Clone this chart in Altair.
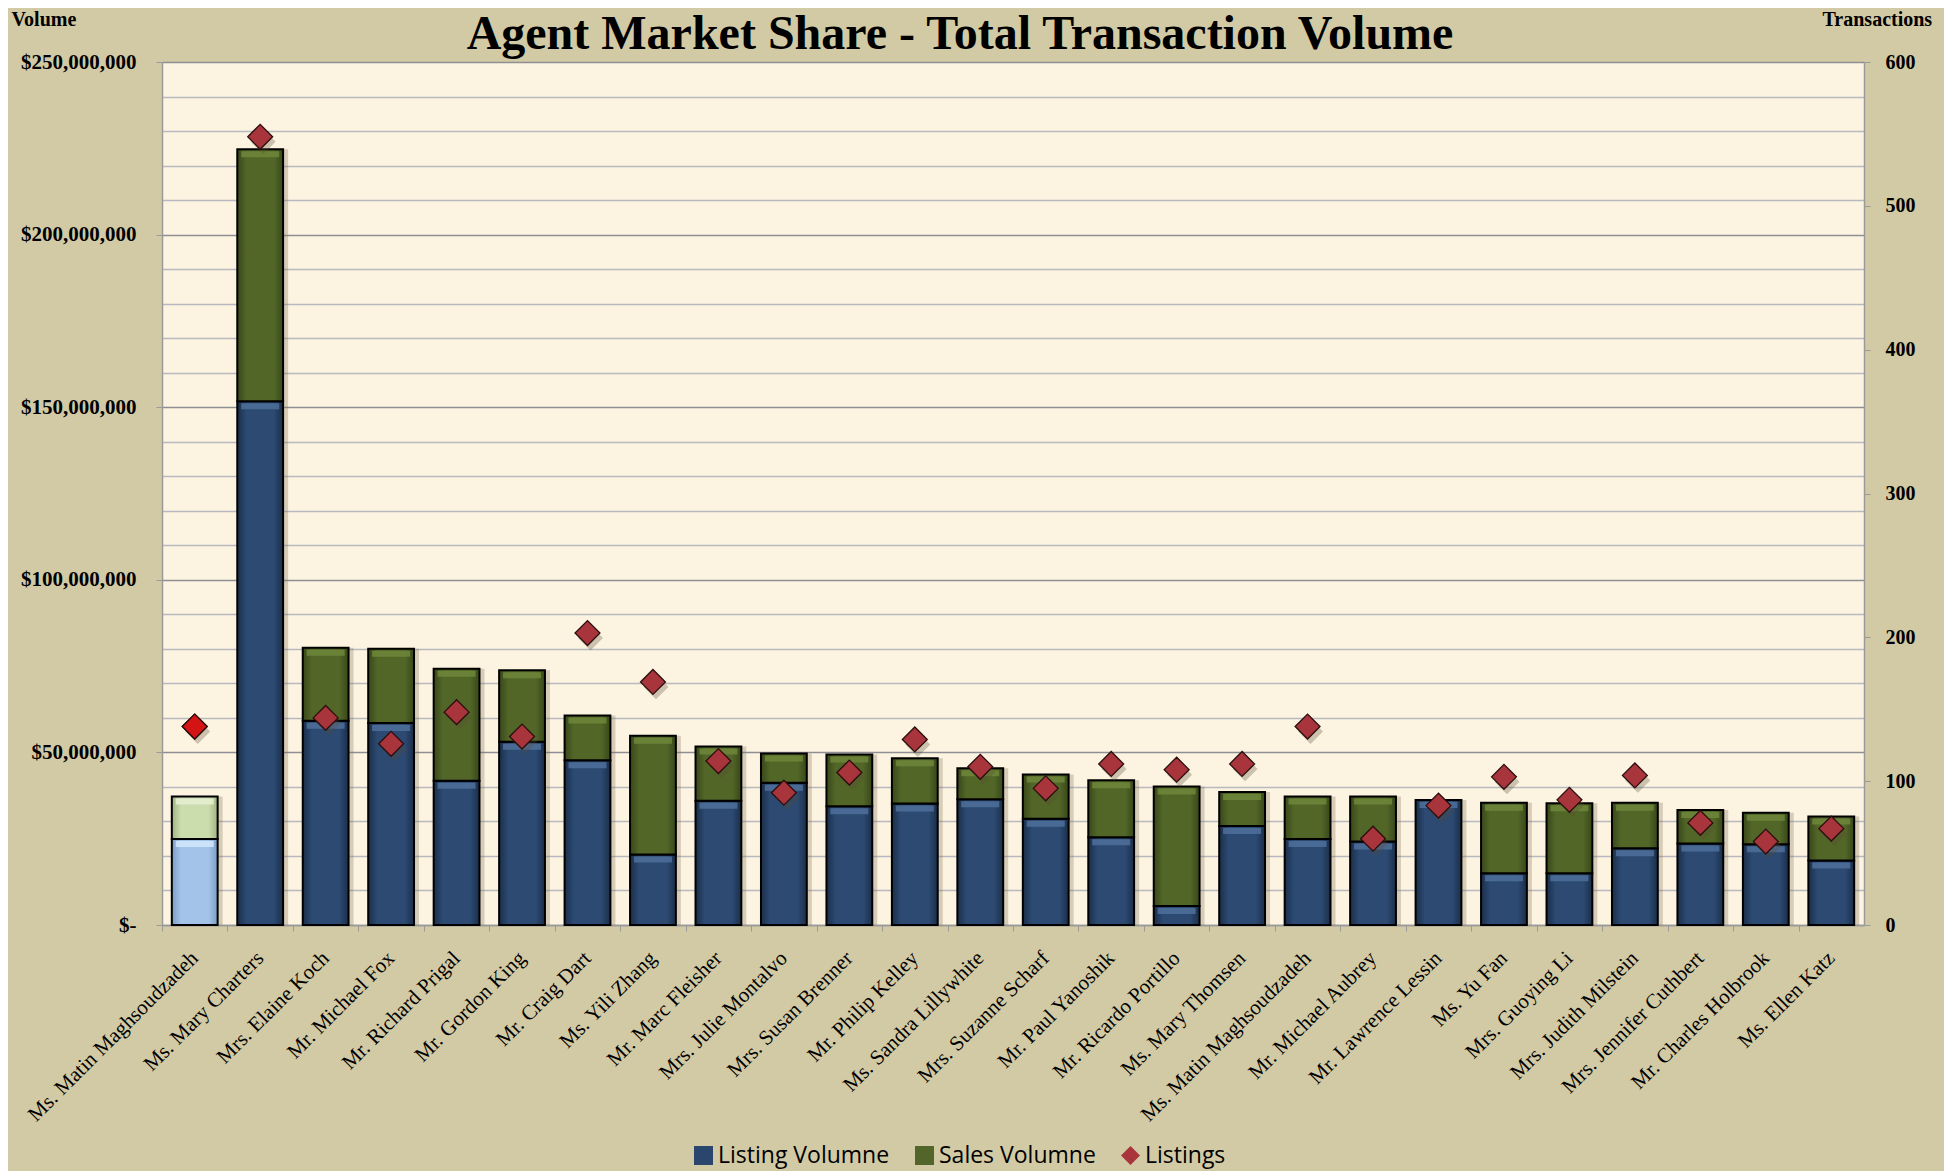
import json
import altair as alt
import pandas as pd

# ---------------- data ----------------
names = [
    "Ms. Matin Maghsoudzadeh", "Ms. Mary Charters", "Mrs. Elaine Koch", "Mr. Michael Fox",
    "Mr. Richard Prigal", "Mr. Gordon King", "Mr. Craig Dart", "Ms. Yili Zhang",
    "Mr. Marc Fleisher", "Mrs. Julie Montalvo", "Mrs. Susan Brenner", "Mr. Philip Kelley",
    "Ms. Sandra Lillywhite", "Mrs. Suzanne Scharf", "Mr. Paul Yanoshik", "Mr. Ricardo Portillo",
    "Ms. Mary Thomsen", "Ms. Matin Maghsoudzadeh", "Mr. Michael Aubrey", "Mr. Lawrence Lessin",
    "Ms. Yu Fan", "Mrs. Guoying Li", "Mrs. Judith Milstein", "Mrs. Jennifer Cuthbert",
    "Mr. Charles Holbrook", "Ms. Ellen Katz",
]
# $ millions
listing_volume = [24.9, 151.7, 59.2, 58.5, 41.8, 53.1, 47.7, 20.4, 36.0, 41.2, 34.4, 35.2, 36.4,
                  30.8, 25.4, 5.5, 28.7, 24.9, 24.2, 36.2, 15.0, 15.0, 22.2, 23.6, 23.4, 18.7]
sales_volume = [12.3, 73.0, 21.1, 21.5, 32.4, 20.7, 13.0, 34.4, 15.7, 8.5, 15.0, 13.1, 9.0,
                12.8, 16.5, 34.6, 9.8, 12.3, 13.0, 0.0, 20.4, 20.3, 13.2, 9.7, 9.1, 12.7]
listings = [138, 548, 144, 126, 148, 131, 203, 169, 114, 92, 106, 129, 110,
            95, 112, 108, 112, 138, 60, 83, 103, 87, 104, 71, 58, 67]
highlighted = [0]  # the selected (light coloured) bar

left_ticks = list(range(0, 250_000_001, 10_000_000))
right_ticks = [0, 100, 200, 300, 400, 500, 600]

TITLE = "Agent Market Share - Total Transaction Volume"
SERIES = ["Listing Volumne", "Sales Volumne", "Listings"]

# ---------------- tables ----------------
rows = []
for i, n in enumerate(names):
    lv = listing_volume[i] * 1e6
    sv = sales_volume[i] * 1e6
    hl = 1 if i in highlighted else 0
    rows.append(dict(idx=i, name=n, series=SERIES[0], v0=0.0, v1=lv, hl=hl))
    if sv > 0:
        rows.append(dict(idx=i, name=n, series=SERIES[1], v0=lv, v1=lv + sv, hl=hl))
bars_df = pd.DataFrame(rows)
pts_df = pd.DataFrame(dict(idx=list(range(len(names))), name=names,
                           series=SERIES[2], listings=listings,
                           hl=[1 if i in highlighted else 0 for i in range(len(names))]))

# ---------------- styling ----------------
SERIF = "Liberation Serif"
SANS = "Open Sans"
W, H = 1702, 863
STEP = W / len(names)


def hgrad(edge, mid):
    return {"gradient": "linear", "x1": 0, "y1": 0, "x2": 1, "y2": 0,
            "stops": [{"offset": 0, "color": edge}, {"offset": 0.2, "color": mid},
                      {"offset": 0.8, "color": mid}, {"offset": 1, "color": edge}]}


G_BLUE = hgrad("#1b2e49", "#2c4a72")
G_GREEN = hgrad("#384719", "#526628")
G_LBLUE = hgrad("#7b9dc4", "#a3c4e8")
G_LGREEN = hgrad("#a1b381", "#cbdcad")

is_listing = "datum.series === 'Listing Volumne'"
bar_fill = alt.FillValue(
    G_GREEN,
    condition=[
        {"test": f"datum.hl === 1 && {is_listing}", "value": G_LBLUE},
        {"test": "datum.hl === 1", "value": G_LGREEN},
        {"test": is_listing, "value": G_BLUE},
    ],
)
hi_fill = alt.ColorValue(
    "#6d873a",
    condition=[
        {"test": f"datum.hl === 1 && {is_listing}", "value": "#d3e8fc"},
        {"test": "datum.hl === 1", "value": "#e6f0d2"},
        {"test": is_listing, "value": "#4f709b"},
    ],
)

x_enc = alt.X(
    "idx:O", title=None,
    scale=alt.Scale(paddingInner=0.3, paddingOuter=0.15),
    axis=alt.Axis(
        labelExpr=json.dumps(names) + "[datum.value]",
        labelAngle=-45, labelFont=SERIF, labelFontSize=21, labelColor="black",
        labelLimit=400, labelOverlap=False, labelPadding=16,
        tickOffset=-STEP / 2, labelOffset=STEP / 2 - 8,
        tickSize=6, tickColor="#9a9a9a", domainColor="#9a9a9a", domainWidth=1.5,
        grid=False,
    ),
)

left_axis = alt.Axis(
    values=left_ticks,
    labelExpr=("datum.value === 0 ? '$-\u00a0\u00a0' : (datum.value % 50000000 === 0 ? "
               "'$' + format(datum.value, ',') : '')"),
    labelFont=SERIF, labelFontSize=21, labelFontWeight="bold", labelColor="black",
    labelPadding=20, labelOverlap=False,
    tickSize=6, tickColor=alt.condition("datum.value % 50000000 === 0",
                                        alt.value("#9a9a9a"), alt.value("rgba(0,0,0,0)")),
    grid=True,
    gridColor=alt.condition("datum.value % 50000000 === 0",
                            alt.value("#8e8e94"), alt.value("#b8b8c0")),
    gridWidth=1.5,
    domainColor="#9a9a9a", domainWidth=1.5,
    title="Volume", titleAngle=0, titleX=-151, titleY=-37, titleAlign="left",
    titleBaseline="alphabetic", titleFont=SERIF, titleFontSize=20,
    titleFontWeight="bold", titleColor="black",
)
y_left = alt.Y("v1:Q", scale=alt.Scale(domain=[0, 250_000_000], nice=False), axis=left_axis)

right_axis = alt.Axis(
    orient="right", values=right_ticks, format="d", grid=False,
    labelFont=SERIF, labelFontSize=20, labelFontWeight="bold", labelColor="black",
    labelPadding=15, tickSize=6, tickColor="#9a9a9a", domainColor="#9a9a9a", domainWidth=1.5,
    title="Transactions", titleAngle=0, titleX=-42, titleY=-37, titleAlign="left",
    titleBaseline="alphabetic", titleFont=SERIF, titleFontSize=20,
    titleFontWeight="bold", titleColor="black",
)
y_right = alt.Y("listings:Q", scale=alt.Scale(domain=[0, 600], nice=False), axis=right_axis)

legend = alt.Legend(
    title=None, orient="none", legendX=530, legendY=1082, direction="horizontal",
    labelFont=SANS, labelFontSize=23, labelColor="black", labelOffset=3, labelLimit=500,
    symbolSize=360, symbolStrokeColor="black", symbolStrokeWidth=1.5, symbolOpacity=1,
    columnPadding=22,
)

# ---------------- layers ----------------
base_bars = alt.Chart(bars_df)
bar_shadow = base_bars.mark_bar(fill="#7d7256", opacity=0.3, xOffset=5).encode(
    x=x_enc, y=y_left, y2="v0:Q")
bars = base_bars.mark_bar(stroke="black", strokeWidth=2).encode(
    x=x_enc, y=y_left, y2="v0:Q", fill=bar_fill,
    tooltip=["name:N", "series:N", alt.Tooltip("v0:Q", format="$,.0f"),
             alt.Tooltip("v1:Q", format="$,.0f")])
bar_hi = base_bars.mark_tick(thickness=6, size=38, yOffset=5, opacity=0.85).encode(
    x=x_enc, y=y_left, color=hi_fill)
left = alt.layer(bar_shadow, bars, bar_hi)

base_pts = alt.Chart(pts_df)
pt_shadow = base_pts.mark_point(filled=True, shape="diamond", size=620, color="#5b4c33",
                                opacity=0.3, xOffset=3, yOffset=5).encode(x=x_enc, y=y_right)
pts = base_pts.mark_point(filled=True, size=620, stroke="#2a0e0e", strokeWidth=1.3,
                          opacity=1).encode(
    x=x_enc, y=y_right,
    color=alt.Color("series:N", scale=alt.Scale(domain=SERIES,
                                                range=["#2a466c", "#52652a", "#a8343c"]),
                    legend=legend),
    shape=alt.Shape("series:N", scale=alt.Scale(domain=SERIES,
                                                range=["square", "square", "diamond"]),
                    legend=legend),
    tooltip=["name:N", "listings:Q"],
)
pts_hl = base_pts.transform_filter("datum.hl === 1").mark_point(
    filled=True, shape="diamond", size=620, color="#d41414", stroke="#2a0e0e",
    strokeWidth=1.3, opacity=1).encode(x=x_enc, y=y_right)
right = alt.layer(pt_shadow, pts, pts_hl)

chart = (
    alt.layer(left, right)
    .resolve_scale(y="independent")
    .properties(
        width=W, height=H,
        title=alt.TitleParams(TITLE, font=SERIF, fontSize=48, fontWeight="bold", color="black",
                              anchor="middle", frame="group", dx=-53, dy=50, offset=0),
        background="#d2caa4",
        padding={"left": 154, "top": 54, "right": 80, "bottom": 246},
        autosize=alt.AutoSizeParams(type="none"),
    )
    .configure_view(fill="#fcf4e1", strokeWidth=0)
)

chart.save("out.html", embed_options={"renderer": "svg", "actions": False})
